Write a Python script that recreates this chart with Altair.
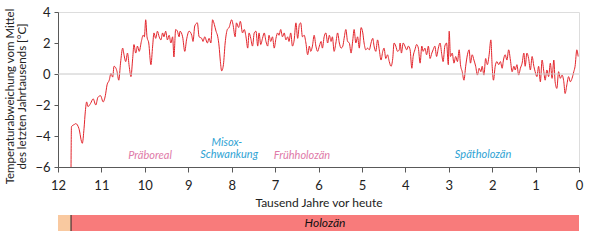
import altair as alt
import pandas as pd

# ages in thousand years before present, temperature anomaly in °C
ages = [11.70, 11.69, 11.62, 11.59, 11.52, 11.44, 11.40, 11.37, 11.34, 11.31, 11.25, 11.19, 11.13, 11.08, 11.02, 10.96, 10.91, 10.87,
        10.82, 10.78, 10.74, 10.71, 10.67, 10.64, 10.60, 10.56, 10.51, 10.48, 10.44, 10.40, 10.36, 10.32, 10.28, 10.25,
        10.21, 10.17, 10.13, 10.08, 10.04, 10.01, 9.98, 9.95, 9.91, 9.86, 9.82, 9.79, 9.75, 9.71, 9.67, 9.63, 9.59,
        9.56, 9.52, 9.48, 9.44, 9.40, 9.36, 9.33, 9.29, 9.25, 9.21, 9.19, 9.13, 9.08, 9.04, 8.98, 8.92, 8.89, 8.85,
        8.79, 8.75, 8.69, 8.66, 8.62, 8.56, 8.52, 8.48, 8.44, 8.40, 8.36, 8.32, 8.29, 8.26, 8.23, 8.19, 8.15, 8.10,
        8.06, 8.00, 7.97, 7.92, 7.89, 7.84, 7.80, 7.75, 7.71, 7.67, 7.63, 7.60, 7.56, 7.52, 7.48, 7.44, 7.40, 7.37,
        7.33, 7.29, 7.25, 7.21, 7.17, 7.14, 7.10, 7.06, 7.02, 6.98, 6.94, 6.91, 6.87, 6.83, 6.79, 6.75, 6.71, 6.68,
        6.64, 6.60, 6.56, 6.52, 6.48, 6.44, 6.41, 6.37, 6.33, 6.29, 6.25, 6.21, 6.18, 6.14, 6.10, 6.06, 6.02, 5.98,
        5.94, 5.91, 5.87, 5.83, 5.79, 5.75, 5.71, 5.68, 5.64, 5.60, 5.56, 5.52, 5.48, 5.44, 5.41, 5.37, 5.33, 5.29,
        5.25, 5.21, 5.18, 5.14, 5.10, 5.06, 5.02, 4.98, 4.95, 4.91, 4.87, 4.83, 4.79, 4.75, 4.72, 4.68, 4.64, 4.60,
        4.56, 4.52, 4.49, 4.45, 4.41, 4.37, 4.33, 4.29, 4.26, 4.22, 4.18, 4.14, 4.12, 4.09, 4.05, 4.01, 3.97, 3.93,
        3.89, 3.85, 3.82, 3.78, 3.74, 3.70, 3.66, 3.62, 3.59, 3.55, 3.51, 3.47, 3.43, 3.39, 3.36, 3.32, 3.28, 3.24,
        3.20, 3.16, 3.13, 3.09, 3.05, 3.01, 2.99, 2.96, 2.92, 2.88, 2.84, 2.80, 2.76, 2.73, 2.69, 2.65, 2.61, 2.57,
        2.53, 2.50, 2.46, 2.42, 2.38, 2.34, 2.30, 2.26, 2.23, 2.19, 2.15, 2.11, 2.07, 2.03, 2.00, 1.97, 1.93, 1.89,
        1.85, 1.81, 1.77, 1.74, 1.70, 1.66, 1.62, 1.58, 1.54, 1.50, 1.47, 1.43, 1.39, 1.35, 1.31, 1.27, 1.24, 1.20,
        1.16, 1.12, 1.08, 1.04, 1.01, 0.97, 0.93, 0.89, 0.85, 0.81, 0.78, 0.74, 0.70, 0.66, 0.62, 0.58, 0.55, 0.51,
        0.47, 0.43, 0.39, 0.35, 0.32, 0.28, 0.24, 0.20, 0.16, 0.12, 0.09, 0.05, 0.02]
temps = [-6.0, -3.4, -3.25, -3.2, -3.5, -4.47, -3.5, -2.4, -1.8, -2.1, -1.9, -1.6, -2.0, -1.5, -1.4, -1.8, -1.4, -0.7,
         -0.4, 0.04, -0.2, 0.5, 0.4, 0.15, -0.4, 0.7, 1.67, 1.24, 0.8, 1.35, 0.5, -0.17, 1.0, 1.9,
         1.35, 1.8, 1.46, 2.1, 2.5, 2.4, 3.5, 2.4, 2.0, 0.6, 1.8, 2.65, 2.3, 2.76, 2.4, 2.2, 2.65,
         2.4, 2.76, 2.2, 2.5, 2.0, 2.4, 1.1, 2.87, 2.76, 2.4, 2.76, 2.4, 1.46, 2.2, 2.76, 2.5, 2.1, 3.1,
         3.3, 2.4, 2.3, 2.1, 2.4, 2.0, 2.3, 2.0, 3.5, 3.2, 2.76, 2.4, 1.8, 0.8, 0.2, 0.6, 2.0, 2.87,
         3.0, 3.5, 3.2, 2.4, 3.3, 3.0, 3.4, 2.65, 2.87, 2.4, 1.67, 2.65, 2.3, 1.8, 2.65, 2.76, 1.8, 2.65,
         1.9, 2.3, 2.65, 2.1, 1.8, 2.5, 2.1, 2.4, 1.67, 2.3, 2.65, 2.5, 2.87, 2.4, 2.65, 2.2, 2.4, 2.1,
         2.65, 1.8, 2.2, 3.3, 2.3, 3.2, 3.3, 2.4, 2.5, 2.0, 1.24, 1.8, 1.46, 1.8, 2.5, 1.8, 1.46, 1.8,
         2.1, 1.67, 2.4, 2.65, 2.0, 2.5, 2.1, 2.4, 1.46, 2.0, 2.65, 2.0, 1.67, 1.8, 2.3, 2.87, 2.1, 2.0,
         1.35, 2.2, 2.87, 2.0, 2.4, 1.67, 3.0, 2.65, 2.0, 1.56, 1.67, 1.56, 2.0, 2.3, 1.8, 1.46, 2.2, 1.56,
         0.9, 1.46, 1.67, 1.0, 1.24, 0.8, 0.5, 1.0, 2.0, 1.8, 1.46, 1.56, 2.0, 1.35, 2.0, 1.8, 1.56, 1.8,
         1.56, 0.37, 1.13, 1.56, 1.9, 1.67, 0.7, 1.8, 1.46, 1.67, 1.24, 1.8, 1.0, 1.35, 1.56, 1.8, 1.13, 1.67,
         2.0, 1.24, 0.8, 1.8, 2.0, 0.6, 2.76, 1.13, 1.35, 0.7, 1.13, 0.8, 1.56, 0.6, 0.15, -0.4, 0.5, 1.24,
         1.56, 0.7, 1.24, 0.9, 0.5, -0.07, 0.37, 0.15, 0.5, -0.07, 1.0, 0.6, 1.24, 2.2, 0.5, -0.4, 0.5, 0.8,
         0.6, 0.8, 0.37, 0.9, 1.24, 0.9, 1.56, 0.9, 0.15, 0.5, 0.26, 0.6, -0.07, 0.37, 0.7, 1.35, 0.5, 1.35,
         1.0, 0.26, 1.13, 0.5, 0.15, -0.17, 0.5, -0.5, 0.9, 0.15, -0.4, 0.26, -0.17, 0.7, -0.28, 0.9, -0.5, -0.93,
         0.15, -0.28, -0.07, -0.5, -1.26, -0.7, -0.17, -0.5, -0.28, 0.15, 0.5, 1.56, 1.13]

ann_text = ["Präboreal", "Misox-", "Schwankung", "Frühholozän", "Spätholozän"]
ann_age = [9.88, 8.11, 8.06, 6.38, 2.21]
ann_val = [-5.3, -4.45, -5.25, -5.3, -5.2]
ann_color = ["#e07aa8", "#2fa3d4", "#2fa3d4", "#e07aa8", "#2fa3d4"]

bar_start = [12.0, 11.7]
bar_end = [11.7, 0.0]
bar_color = ["#f9c9a0", "#f87b7b"]
epoch_label = ["Holozän"]
epoch_mid = [5.85]
y_ticks = [-6, -4, -2, 0, 2, 4]
x_ticks = list(range(0, 13))

FONT = "Lato"
df = pd.DataFrame({"age": ages, "temp": temps})
xscale = alt.Scale(domain=[12, 0], nice=False)
yscale = alt.Scale(domain=[-6, 4], nice=False)

xaxis = alt.Axis(values=x_ticks, tickCount=20, format="d", title="Tausend Jahre vor heute",
                 labelFontSize=13, titleFontSize=12, titleFontWeight="normal", tickSize=5,
                 labelPadding=7, titlePadding=5, grid=False, domainColor="#595959",
                 tickColor="#595959", labelColor="#222", titleColor="#222",
                 labelFont=FONT, titleFont=FONT, labelFlush=False, labelOverlap=False)
yaxis = alt.Axis(values=y_ticks, tickCount=10, format="d",
                 title=["Temperaturabweichung vom Mittel", "des letzten Jahrtausends [°C]"],
                 labelFontSize=13, titleFontSize=11.5, titleFontWeight="normal", tickSize=4,
                 labelPadding=4, titlePadding=7, grid=False, domainColor="#595959",
                 tickColor="#595959", labelColor="#222", titleColor="#222",
                 labelFont=FONT, titleFont=FONT, titleLineHeight=12, titleY=84,
                 labelOverlap=False, labelFlush=False, labelBound=False)

line = alt.Chart(df).mark_line(color="#e3242b", strokeWidth=1, interpolate="monotone", clip=True).encode(
    x=alt.X("age:Q", scale=xscale, axis=xaxis),
    y=alt.Y("temp:Q", scale=yscale, axis=yaxis))

zero = alt.Chart(pd.DataFrame({"v": [0]})).mark_rule(color="#c8c8c8", strokeWidth=1).encode(
    y=alt.Y("v:Q", scale=yscale))

ann = alt.Chart(pd.DataFrame({"t": ann_text, "a": ann_age, "v": ann_val, "c": ann_color})).mark_text(
    font=FONT, fontSize=11, fontStyle="italic").encode(
    x=alt.X("a:Q", scale=xscale), y=alt.Y("v:Q", scale=yscale), text="t:N",
    color=alt.Color("c:N", scale=None))

bars = alt.Chart(pd.DataFrame({"s": bar_start, "e": bar_end, "c": bar_color})).mark_rect().encode(
    x=alt.X("s:Q", scale=xscale), x2="e:Q", y=alt.value(203), y2=alt.value(219),
    color=alt.Color("c:N", scale=None))

sep = alt.Chart(pd.DataFrame({"a": [bar_end[0]]})).mark_rule(color="#222", strokeWidth=1).encode(
    x=alt.X("a:Q", scale=xscale), y=alt.value(203), y2=alt.value(219))

epoch = alt.Chart(pd.DataFrame({"t": epoch_label, "a": epoch_mid})).mark_text(
    font=FONT, fontSize=12, fontStyle="italic", color="#111").encode(
    x=alt.X("a:Q", scale=xscale), y=alt.value(211), text="t:N")

chart = alt.layer(line, zero, ann, bars, sep, epoch).properties(
    width=521, height=155,
    autosize=alt.AutoSizeParams(type="none"),
    padding={"left": 58, "top": 12, "right": 21, "bottom": 74},
).configure_view(stroke="#595959", strokeWidth=1).configure_axis(
    labelOverlap=False).configure(background="white")

chart.save("out.html", embed_options={"renderer": "svg", "actions": False})
